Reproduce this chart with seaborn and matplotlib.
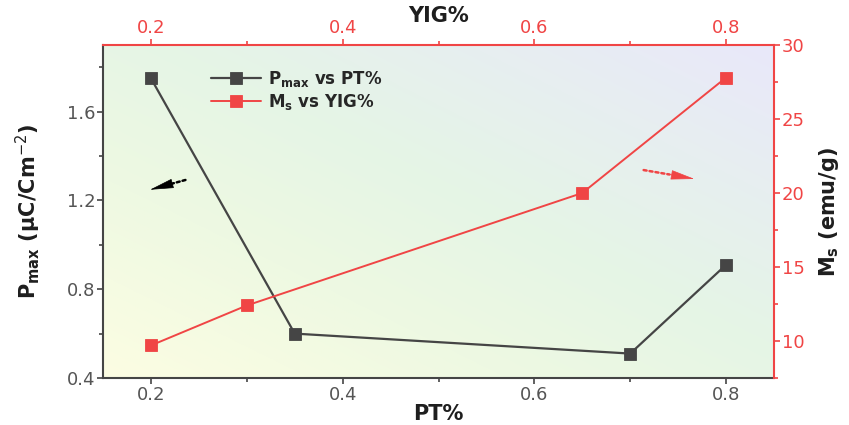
import numpy as np
import pandas as pd
import matplotlib
matplotlib.use("Agg")
import matplotlib.pyplot as plt
from matplotlib.colors import LinearSegmentedColormap
from matplotlib.ticker import MultipleLocator
import seaborn as sns

# P_max against PT fraction (bottom / left axes)
pt_frac = [0.2, 0.35, 0.7, 0.8]
p_max = [1.75, 0.60, 0.51, 0.91]

# Saturation magnetisation against YIG fraction (top / right axes)
yig_frac = [0.2, 0.3, 0.65, 0.8]
m_s = [9.7, 12.4, 20.0, 27.8]

sns.set_theme(style="ticks")
plt.rcParams["font.family"] = ["DejaVu Sans"]
plt.rcParams["mathtext.fontset"] = "dejavusans"

DARK = "#454545"
RED = "#f04545"
GREY_TXT = "#555555"
LABEL = "#1e1e1e"

fig = plt.figure(figsize=(8.49, 4.25), dpi=100)
pos = [103 / 849, 1 - 378 / 425, (774 - 103) / 849, (378 - 45) / 425]
ax = fig.add_axes(pos)
ax2 = fig.add_axes(pos, facecolor="none")

# diagonal pastel background
cmap = LinearSegmentedColormap.from_list(
    "bg", [(0.0, "#fcfde2"), (0.3, "#eef9e2"), (0.55, "#e5f5e6"),
           (1.0, "#e9e8fa")])
gx, gy = np.meshgrid(np.linspace(0, 1, 300), np.linspace(0, 1, 300))
ax.imshow((gx + gy) / 2, extent=[0, 1, 0, 1], transform=ax.transAxes,
          cmap=cmap, vmin=0, vmax=1, aspect="auto", origin="lower", zorder=0)

df_p = pd.DataFrame({"PT%": pt_frac, "Pmax": p_max})
df_m = pd.DataFrame({"YIG%": yig_frac, "Ms": m_s})

sns.lineplot(data=df_p, x="PT%", y="Pmax", ax=ax, color=DARK, marker="s",
             markersize=9, markeredgewidth=0.6, markeredgecolor=DARK,
             linewidth=1.6, label=r"$\mathbf{P_{max}}$ vs PT%", legend=False,
             zorder=3)
sns.lineplot(data=df_m, x="YIG%", y="Ms", ax=ax2, color=RED, marker="s",
             markersize=9, markeredgewidth=0.6, markeredgecolor=RED,
             linewidth=1.4, label=r"$\mathbf{M_s}$ vs YIG%", legend=False,
             zorder=3)

ax.set_xlim(0.15, 0.85)
ax.set_ylim(0.4, 1.9)
ax2.set_xlim(0.15, 0.85)
ax2.set_ylim(7.5, 30)

# bottom / left axes
ax.xaxis.set_major_locator(MultipleLocator(0.2))
ax.xaxis.set_minor_locator(MultipleLocator(0.1))
ax.yaxis.set_major_locator(MultipleLocator(0.4))
ax.yaxis.set_minor_locator(MultipleLocator(0.2))
ax.tick_params(which="both", direction="out", color=DARK, width=1.2,
               labelsize=13, labelcolor=GREY_TXT, pad=1.5)
ax.tick_params(which="major", length=4)
ax.tick_params(which="minor", length=3)
ax.spines["top"].set_visible(False)
ax.spines["right"].set_visible(False)
for s in ("left", "bottom"):
    ax.spines[s].set_color(DARK)
    ax.spines[s].set_linewidth(1.5)
ax.set_xlabel("PT%", fontsize=15, fontweight="bold", color=LABEL, labelpad=0)
ax.set_ylabel("$\\mathbf{P_{max}}$ (μC/Cm$^{-2}$)", fontsize=15,
              fontweight="bold", color=LABEL, labelpad=17)

# top / right axes
ax2.xaxis.tick_top()
ax2.xaxis.set_label_position("top")
ax2.yaxis.tick_right()
ax2.yaxis.set_label_position("right")
ax2.xaxis.set_major_locator(MultipleLocator(0.2))
ax2.xaxis.set_minor_locator(MultipleLocator(0.1))
ax2.yaxis.set_major_locator(MultipleLocator(5))
ax2.yaxis.set_minor_locator(MultipleLocator(2.5))
ax2.tick_params(which="both", direction="out", color=RED, width=1.2,
                labelsize=13, labelcolor=RED, pad=1.5)
ax2.tick_params(which="major", length=4)
ax2.tick_params(which="minor", length=3)
ax2.spines["left"].set_visible(False)
ax2.spines["bottom"].set_visible(False)
for s in ("top", "right"):
    ax2.spines[s].set_visible(True)
    ax2.spines[s].set_color(RED)
    ax2.spines[s].set_linewidth(1.5)
ax2.set_xlabel("YIG%", fontsize=15, fontweight="bold", color=LABEL, labelpad=-2)
ax2.set_ylabel(r"$\mathbf{M_s}$ (emu/g)", fontsize=15, fontweight="bold",
               color=LABEL, labelpad=9)


def dotted_arrow(axis, tail, tip, head_from, colour):
    """Dotted shaft from tail to head_from, solid filled head to tip."""
    axis.annotate("", xy=head_from, xytext=tail,
                  arrowprops=dict(arrowstyle="-", color=colour, lw=1.8,
                                  linestyle=(0, (1.2, 1.2)),
                                  shrinkA=0, shrinkB=0), zorder=4)
    axis.annotate("", xy=tip, xytext=head_from,
                  arrowprops=dict(arrowstyle="-|>,head_length=1.1,head_width=0.22",
                                  mutation_scale=14, color=colour, lw=0.5,
                                  shrinkA=0, shrinkB=0), zorder=4)


# direction arrows
dotted_arrow(ax, (0.236, 1.292), (0.199, 1.248), (0.214, 1.266), "black")
dotted_arrow(ax2, (0.714, 21.55), (0.767, 20.95), (0.741, 21.25), RED)

# combined legend
h1, l1 = ax.get_legend_handles_labels()
h2, l2 = ax2.get_legend_handles_labels()
leg = ax2.legend(h1 + h2, l1 + l2, loc="upper left",
                 bbox_to_anchor=(0.155, 0.94), frameon=True, fancybox=False,
                 framealpha=0, edgecolor="#777777",
                 prop={"weight": "bold", "size": 12}, handlelength=3.0,
                 borderpad=0.25, labelspacing=0.15, handletextpad=0.4,
                 borderaxespad=0)
leg.get_frame().set_linewidth(1.0)

fig.savefig("out.png", dpi=100)
